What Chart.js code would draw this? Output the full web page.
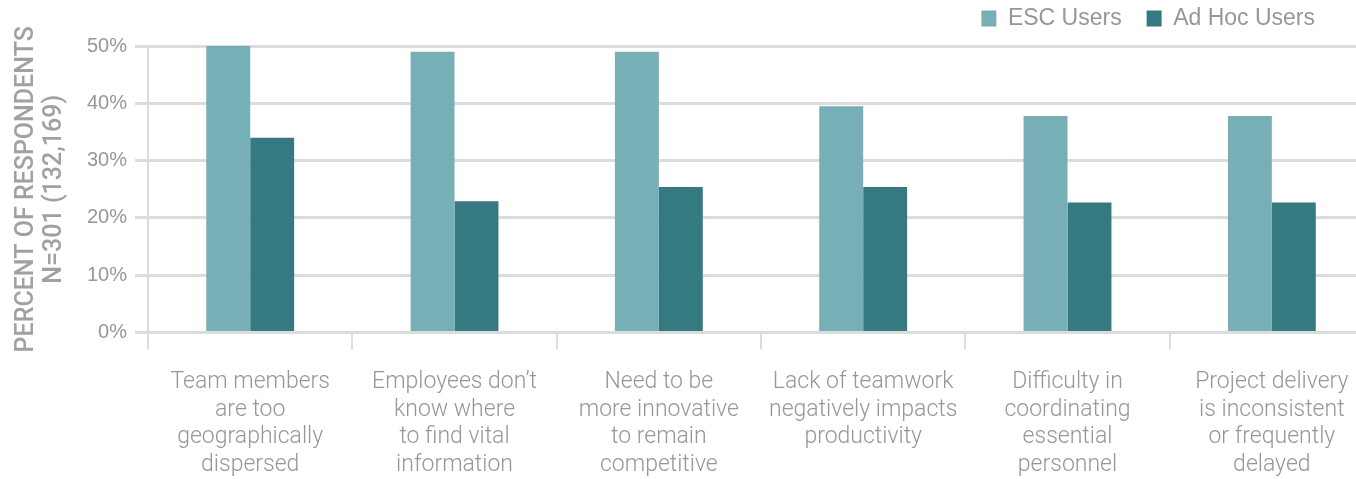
<!DOCTYPE html>
<html>
<head>
<meta charset="utf-8">
<script src="https://cdn.jsdelivr.net/npm/chart.js@4"></script>
<style>
    body { margin: 0; background: #fff; overflow: hidden; }
    #wrap { width: 1356px; height: 479px; }
</style>
</head>
<body>
<div id="wrap"><canvas id="chart"></canvas></div>
<script>
// Chart data
const categories = [
    ["Team members", "are too", "geographically", "dispersed"],
    ["Employees don\u2019t", "know where", "to find vital", "information"],
    ["Need to be", "more innovative", "to remain", "competitive"],
    ["Lack of teamwork", "negatively impacts", "productivity"],
    ["Difficulty in", "coordinating", "essential", "personnel"],
    ["Project delivery", "is inconsistent", "or frequently", "delayed"]
];
const escUsers = [50, 49, 49, 39.5, 37.8, 37.8];
const adHocUsers = [34, 22.9, 25.4, 25.4, 22.7, 22.7];
const seriesNames = ["ESC Users", "Ad Hoc Users"];
const yTicks = [0, 10, 20, 30, 40, 50];
const yTitle = ["PERCENT OF RESPONDENTS", "N=301 (132,169)"];

const gridColor = "#dcdcdc";
const textColor = "#96979a";

// legend sits in from the right edge and a bit higher,
// while the category axis runs a little past the canvas edge like the original
const layoutTweaks = {
    id: "layoutTweaks",
    afterLayout(chart) {
        const legend = chart.legend;
        legend.right = chart.width - 16;
        legend.top -= 6;

        const x = chart.scales.x;
        x.right += 18;
        x.width += 18;
        x.configure();
    }
};

const ctx = document.getElementById("chart").getContext("2d");
new Chart(ctx, {
    type: "bar",
    data: {
        labels: categories,
        datasets: [
            { label: seriesNames[0], data: escUsers, backgroundColor: "#77afb7" },
            { label: seriesNames[1], data: adHocUsers, backgroundColor: "#367a81" }
        ]
    },
    options: {
        responsive: true,
        maintainAspectRatio: false,
        animation: false,
        layout: { padding: { top: -12, left: 2, right: 0, bottom: 0 } },
        datasets: {
            bar: { categoryPercentage: 0.43, barPercentage: 1.0 }
        },
        plugins: {
            tooltip: { enabled: false },
            legend: {
                position: "top",
                align: "end",
                labels: {
                    color: textColor,
                    boxWidth: 15,
                    boxHeight: 16,
                    padding: 25,
                    font: { family: "Liberation Sans", size: 23 }
                }
            }
        },
        scales: {
            x: {
                afterFit: function(axis) {
                    axis.height -= 19; // label block is shorter than Chart.js reserves
                },
                grid: {
                    display: true,
                    offset: true,
                    drawOnChartArea: false,
                    drawTicks: true,
                    tickLength: 17,
                    color: gridColor,
                    lineWidth: 2
                },
                border: { display: false },
                ticks: {
                    color: textColor,
                    padding: 19,
                    maxRotation: 0,
                    autoSkip: false,
                    font: { family: "Roboto", size: 23, weight: "300", lineHeight: 1.2 }
                }
            },
            y: {
                min: 0,
                max: 50,
                afterBuildTicks: function(axis) {
                    axis.ticks = yTicks.map(v => ({ value: v }));
                },
                grid: {
                    color: gridColor,
                    lineWidth: 3,
                    drawTicks: true,
                    tickLength: 13
                },
                border: { display: true, color: gridColor, width: 2 },
                ticks: {
                    color: textColor,
                    padding: 8,
                    font: { family: "Liberation Sans", size: 20 },
                    callback: function(value) {
                        return value + "%";
                    }
                },
                title: {
                    display: true,
                    text: yTitle,
                    color: "#a0a1a3",
                    padding: { top: 11, bottom: 10 },
                    font: { family: "Roboto", size: 25, weight: "500", lineHeight: 1.12 }
                }
            }
        }
    },
    plugins: [layoutTweaks]
});
</script>
</body>
</html>
